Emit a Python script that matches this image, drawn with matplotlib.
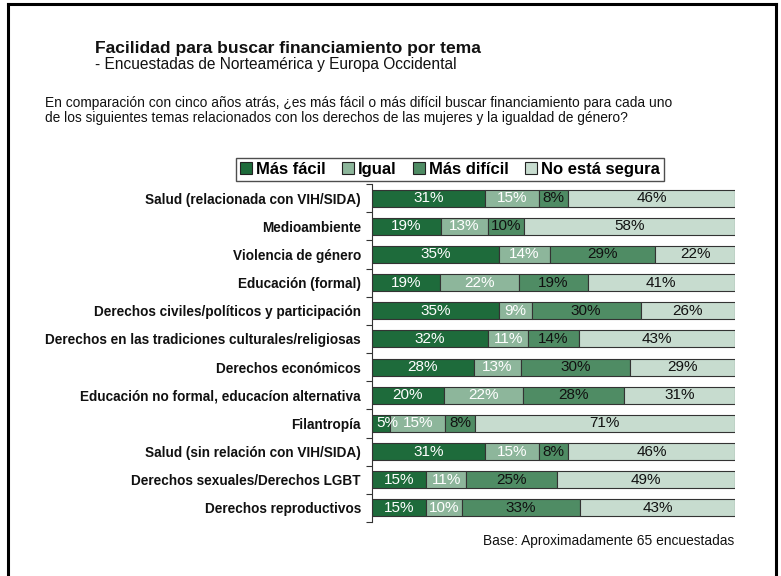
import matplotlib.pyplot as plt
import numpy as np
from matplotlib.patches import Patch

FONT = ["Liberation Sans", "DejaVu Sans"]

categories = [
    "Salud (relacionada con VIH/SIDA)",
    "Medioambiente",
    "Violencia de género",
    "Educación (formal)",
    "Derechos civiles/políticos y participación",
    "Derechos en las tradiciones culturales/religiosas",
    "Derechos económicos",
    "Educación no formal, educacíon alternativa",
    "Filantropía",
    "Salud (sin relación con VIH/SIDA)",
    "Derechos sexuales/Derechos LGBT",
    "Derechos reproductivos",
]
mas_facil = [31, 19, 35, 19, 35, 32, 28, 20, 5, 31, 15, 15]
igual = [15, 13, 14, 22, 9, 11, 13, 22, 15, 15, 11, 10]
mas_dificil = [8, 10, 29, 19, 30, 14, 30, 28, 8, 8, 25, 33]
no_segura = [46, 58, 22, 41, 26, 43, 29, 31, 71, 46, 49, 43]

series_names = ["Más fácil", "Igual", "Más difícil", "No está segura"]
colors = ["#1e6b3b", "#8db69b", "#4f8c64", "#c7dccf"]
text_colors = ["white", "white", "#111111", "#111111"]

fig = plt.figure(figsize=(7.81, 5.76), dpi=100)

# outer frame (bottom edge runs off the canvas)
fig.add_artist(plt.Line2D([8 / 781, 8 / 781], [0, 1 - 4 / 576], color="black", lw=2.2))
fig.add_artist(plt.Line2D([776 / 781, 776 / 781], [0, 1 - 4 / 576], color="black", lw=2.2))
fig.add_artist(plt.Line2D([8 / 781, 776 / 781], [1 - 4 / 576, 1 - 4 / 576], color="black", lw=2.2))

fig.text(95 / 781, 1 - 48 / 576, "Facilidad para buscar financiamiento por tema",
         family=FONT, fontsize=12.6, fontweight="bold", va="center", color="#111111")
fig.text(95 / 781, 1 - 64 / 576, "- Encuestadas de Norteamérica y Europa Occidental",
         family=FONT, fontsize=11.2, va="center", color="#111111")
fig.text(45 / 781, 1 - 103 / 576,
         "En comparación con cinco años atrás, ¿es más fácil o más difícil buscar financiamiento para cada uno",
         family=FONT, fontsize=9.9, va="center", color="#111111")
fig.text(45 / 781, 1 - 118 / 576,
         "de los siguientes temas relacionados con los derechos de las mujeres y la igualdad de género?",
         family=FONT, fontsize=9.9, va="center", color="#111111")
fig.text(734 / 781, 1 - 541 / 576, "Base: Aproximadamente 65 encuestadas",
         family=FONT, fontsize=9.9, ha="right", va="center", color="#111111")

ax = fig.add_axes([372 / 781, 1 - 522 / 576, 363 / 781, 338 / 576])

data = np.array([mas_facil, igual, mas_dificil, no_segura], dtype=float)
totals = data.sum(axis=0)
widths = data / totals * 100
y = np.arange(len(categories))

left = np.zeros(len(categories))
for i, name in enumerate(series_names):
    ax.barh(y, widths[i], left=left, height=0.6, color=colors[i],
            edgecolor="#333333", linewidth=0.8, label=name)
    for j in range(len(categories)):
        # keep narrow labels from spilling past the axis line
        xpos = max(left[j] + widths[i][j] / 2, 4.2)
        ax.text(xpos, y[j], f"{int(data[i][j])}%",
                ha="center", va="center", color=text_colors[i],
                family=FONT, fontsize=11)
    left += widths[i]

ax.set_xlim(0, 100)
ax.set_ylim(len(categories) - 0.5, -0.5)
ax.set_xticks([])
ax.set_yticks(y)
ax.set_yticklabels(categories, family=FONT, fontsize=9.8, fontweight="bold", color="#111111")
ax.tick_params(axis="y", length=0, pad=8)
ax.set_yticks(np.arange(-0.5, len(categories)), minor=True)
ax.tick_params(axis="y", which="minor", length=4, width=0.8, color="#333333")
for s in ["top", "right", "bottom"]:
    ax.spines[s].set_visible(False)
ax.spines["left"].set_color("#333333")
ax.spines["left"].set_linewidth(0.8)

handles = [Patch(facecolor=c, edgecolor="#222222", linewidth=0.8) for c in colors]
leg = fig.legend(handles, series_names, loc="center",
                 bbox_to_anchor=(450 / 781, 1 - 169.5 / 576),
                 ncol=4, frameon=True, fancybox=False, handlelength=0.7,
                 handleheight=0.7, handletextpad=0.25, columnspacing=1.0,
                 borderpad=0.25, prop={"family": FONT, "weight": "bold", "size": 12})
leg.get_frame().set_edgecolor("#222222")
leg.get_frame().set_linewidth(1.0)

fig.savefig("out.png", dpi=100)
